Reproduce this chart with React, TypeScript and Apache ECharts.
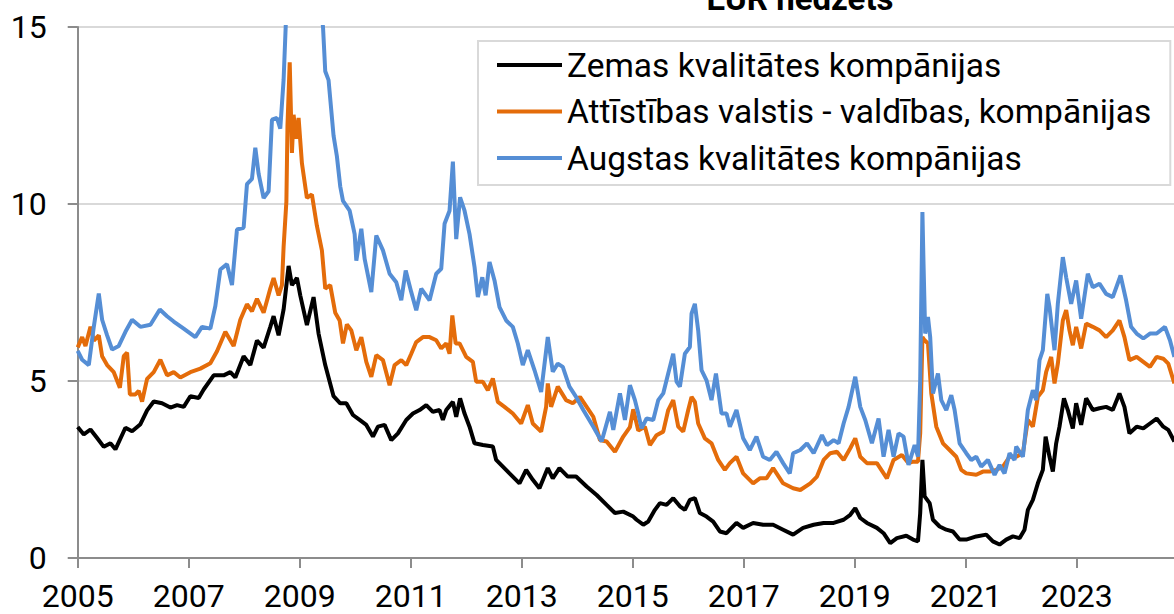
import React, { useEffect, useRef } from "react";
import * as echarts from "echarts";

const TITLE = "EUR hedžēts";
const seriesNames = [
  "Zemas kvalitātes kompānijas",
  "Attīstības valstis - valdības, kompānijas",
  "Augstas kvalitātes kompānijas",
];
const seriesColors = ["#000000", "#e46c0a", "#558ed5"];
const xTickYears = [2005, 2007, 2009, 2011, 2013, 2015, 2017, 2019, 2021, 2023];
const yMin = 0;
const yMax = 15;
const yStep = 5;

// [decimal year, value]
const lowQuality: [number, number][] = [
  [2005.0, 3.7], [2005.11, 3.49], [2005.23, 3.63], [2005.35, 3.39], [2005.47, 3.14], [2005.59, 3.24],
  [2005.68, 3.07], [2005.86, 3.68], [2005.98, 3.58], [2006.13, 3.78], [2006.25, 4.17], [2006.37, 4.42],
  [2006.52, 4.37], [2006.67, 4.25], [2006.79, 4.32], [2006.91, 4.27], [2007.03, 4.57], [2007.18, 4.52],
  [2007.27, 4.76], [2007.45, 5.16], [2007.63, 5.16], [2007.75, 5.25], [2007.84, 5.1], [2007.99, 5.7],
  [2008.11, 5.45], [2008.23, 6.14], [2008.35, 5.94], [2008.47, 6.53], [2008.53, 6.83], [2008.62, 6.29],
  [2008.71, 7.02], [2008.8, 8.25], [2008.86, 7.71], [2008.95, 7.91], [2009.01, 7.42], [2009.13, 6.58],
  [2009.25, 7.37], [2009.34, 6.34], [2009.46, 5.45], [2009.61, 4.57], [2009.73, 4.37], [2009.84, 4.37],
  [2009.96, 4.04], [2010.08, 3.9], [2010.2, 3.76], [2010.32, 3.43], [2010.41, 3.71], [2010.53, 3.76],
  [2010.65, 3.33], [2010.77, 3.52], [2010.92, 3.9], [2011.04, 4.08], [2011.16, 4.18], [2011.28, 4.32],
  [2011.4, 4.13], [2011.52, 4.18], [2011.58, 3.9], [2011.64, 4.18], [2011.76, 4.41], [2011.82, 3.99],
  [2011.89, 4.51], [2011.97, 4.08], [2012.06, 3.71], [2012.15, 3.24], [2012.3, 3.19], [2012.48, 3.15],
  [2012.54, 2.77], [2012.66, 2.58], [2012.78, 2.39], [2012.96, 2.11], [2013.08, 2.49], [2013.2, 2.21],
  [2013.32, 1.97], [2013.47, 2.54], [2013.56, 2.25], [2013.68, 2.54], [2013.83, 2.3], [2013.98, 2.3],
  [2014.17, 2.02], [2014.35, 1.78], [2014.53, 1.5], [2014.68, 1.27], [2014.83, 1.31], [2015.01, 1.17],
  [2015.07, 1.08], [2015.19, 0.94], [2015.28, 1.03], [2015.4, 1.36], [2015.49, 1.55], [2015.61, 1.5],
  [2015.73, 1.69], [2015.85, 1.46], [2015.94, 1.36], [2016.03, 1.64], [2016.12, 1.69], [2016.21, 1.27],
  [2016.33, 1.17], [2016.45, 1.03], [2016.57, 0.75], [2016.69, 0.7], [2016.87, 0.99], [2016.99, 0.85],
  [2017.17, 0.99], [2017.35, 0.94], [2017.53, 0.94], [2017.71, 0.8], [2017.89, 0.66], [2018.07, 0.85],
  [2018.26, 0.94], [2018.44, 0.99], [2018.62, 0.99], [2018.8, 1.08], [2018.92, 1.22], [2019.01, 1.41],
  [2019.1, 1.13], [2019.22, 0.99], [2019.4, 0.85], [2019.52, 0.7], [2019.64, 0.42], [2019.76, 0.56],
  [2019.93, 0.63], [2020.05, 0.52], [2020.14, 0.47], [2020.18, 1.27], [2020.22, 2.77], [2020.26, 1.74],
  [2020.35, 1.55], [2020.41, 1.08], [2020.53, 0.89], [2020.65, 0.8], [2020.77, 0.75], [2020.89, 0.52],
  [2021.01, 0.52], [2021.19, 0.61], [2021.37, 0.66], [2021.49, 0.47], [2021.61, 0.38], [2021.73, 0.52],
  [2021.85, 0.61], [2021.97, 0.56], [2022.06, 0.8], [2022.12, 1.36], [2022.21, 1.64], [2022.3, 2.11],
  [2022.39, 2.49], [2022.44, 3.43], [2022.51, 2.86], [2022.57, 2.44], [2022.63, 3.24], [2022.69, 3.71],
  [2022.77, 4.51], [2022.84, 4.18], [2022.93, 3.66], [2022.99, 4.37], [2023.08, 3.76], [2023.17, 4.51],
  [2023.29, 4.18], [2023.41, 4.23], [2023.53, 4.27], [2023.65, 4.18], [2023.77, 4.65], [2023.86, 4.27],
  [2023.95, 3.52], [2024.08, 3.71], [2024.2, 3.66], [2024.32, 3.8], [2024.44, 3.94], [2024.56, 3.71],
  [2024.65, 3.62], [2024.76, 3.29],
];

const emergingMarkets: [number, number][] = [
  [2005.0, 5.95], [2005.08, 6.24], [2005.14, 5.99], [2005.23, 6.53], [2005.29, 6.14], [2005.38, 6.29],
  [2005.44, 5.7], [2005.53, 5.45], [2005.65, 5.25], [2005.76, 4.81], [2005.83, 5.7], [2005.89, 5.8],
  [2005.94, 4.62], [2006.04, 4.62], [2006.1, 4.72], [2006.16, 4.42], [2006.25, 5.06], [2006.37, 5.25],
  [2006.49, 5.6], [2006.61, 5.16], [2006.73, 5.25], [2006.85, 5.1], [2007.03, 5.25], [2007.21, 5.35],
  [2007.39, 5.5], [2007.51, 5.84], [2007.66, 6.39], [2007.81, 5.99], [2007.93, 6.73], [2008.05, 7.17],
  [2008.14, 6.97], [2008.23, 7.32], [2008.35, 6.93], [2008.47, 7.61], [2008.53, 7.91], [2008.62, 7.42],
  [2008.68, 7.71], [2008.71, 8.79], [2008.76, 10.07], [2008.78, 12.23], [2008.82, 14.0], [2008.86, 11.44],
  [2008.89, 12.52], [2008.94, 11.84], [2008.98, 12.43], [2009.04, 11.15], [2009.13, 10.17], [2009.22, 10.27],
  [2009.31, 9.38], [2009.4, 8.69], [2009.46, 7.61], [2009.55, 7.71], [2009.64, 6.93], [2009.72, 6.71],
  [2009.78, 6.06], [2009.85, 6.6], [2009.93, 6.43], [2010.02, 5.87], [2010.11, 6.24], [2010.2, 5.54],
  [2010.29, 5.12], [2010.38, 5.73], [2010.5, 5.59], [2010.62, 4.88], [2010.71, 5.45], [2010.83, 5.59],
  [2010.92, 5.45], [2011.01, 5.77], [2011.1, 6.1], [2011.22, 6.24], [2011.34, 6.24], [2011.46, 6.15],
  [2011.55, 5.92], [2011.64, 6.06], [2011.7, 5.77], [2011.75, 6.85], [2011.81, 6.06], [2011.88, 6.06],
  [2012.0, 5.68], [2012.12, 5.54], [2012.18, 4.98], [2012.3, 4.98], [2012.39, 4.74], [2012.48, 5.07],
  [2012.57, 4.41], [2012.69, 4.27], [2012.84, 4.08], [2012.99, 3.8], [2013.11, 4.32], [2013.2, 3.8],
  [2013.35, 3.57], [2013.44, 4.27], [2013.47, 4.93], [2013.53, 4.27], [2013.65, 4.84], [2013.8, 4.46],
  [2013.92, 4.37], [2014.05, 4.55], [2014.17, 4.27], [2014.29, 3.99], [2014.41, 3.33], [2014.53, 3.29],
  [2014.68, 3.0], [2014.83, 3.43], [2014.95, 3.7], [2015.01, 4.2], [2015.1, 3.6], [2015.22, 3.71],
  [2015.31, 3.19], [2015.43, 3.47], [2015.55, 3.57], [2015.64, 4.18], [2015.73, 4.46], [2015.82, 3.71],
  [2015.91, 3.57], [2016.0, 4.18], [2016.06, 4.55], [2016.12, 4.41], [2016.18, 3.8], [2016.3, 3.38],
  [2016.42, 3.24], [2016.54, 2.77], [2016.66, 2.49], [2016.75, 2.68], [2016.87, 2.86], [2016.99, 2.39],
  [2017.17, 2.11], [2017.29, 2.25], [2017.41, 2.25], [2017.53, 2.54], [2017.71, 2.11], [2017.89, 1.97],
  [2018.02, 1.92], [2018.2, 2.11], [2018.32, 2.3], [2018.44, 2.77], [2018.56, 2.96], [2018.68, 3.0],
  [2018.8, 2.77], [2018.92, 3.1], [2019.01, 3.38], [2019.1, 2.86], [2019.22, 2.68], [2019.4, 2.68],
  [2019.58, 2.25], [2019.7, 2.77], [2019.85, 2.91], [2019.97, 2.68], [2020.05, 2.72], [2020.14, 2.72],
  [2020.18, 3.52], [2020.22, 6.24], [2020.26, 6.15], [2020.32, 6.06], [2020.38, 4.65], [2020.47, 3.71],
  [2020.59, 3.24], [2020.71, 3.05], [2020.83, 2.86], [2020.92, 2.49], [2021.01, 2.39], [2021.19, 2.35],
  [2021.31, 2.44], [2021.43, 2.44], [2021.55, 2.49], [2021.67, 2.58], [2021.79, 2.86], [2021.91, 2.86],
  [2022.03, 2.96], [2022.12, 3.9], [2022.21, 3.71], [2022.3, 4.55], [2022.39, 4.74], [2022.45, 5.26],
  [2022.54, 5.68], [2022.6, 4.93], [2022.66, 5.49], [2022.75, 6.71], [2022.81, 7.0], [2022.87, 6.43],
  [2022.93, 6.01], [2022.99, 6.53], [2023.08, 5.92], [2023.17, 6.62], [2023.29, 6.53], [2023.41, 6.43],
  [2023.53, 6.24], [2023.65, 6.43], [2023.77, 6.71], [2023.86, 6.24], [2023.95, 5.59], [2024.08, 5.68],
  [2024.2, 5.54], [2024.32, 5.4], [2024.44, 5.68], [2024.56, 5.63], [2024.65, 5.49], [2024.76, 4.93],
];

const highQuality: [number, number][] = [
  [2005.0, 5.85], [2005.08, 5.6], [2005.2, 5.45], [2005.29, 6.53], [2005.38, 7.47], [2005.44, 6.73],
  [2005.53, 6.29], [2005.62, 5.89], [2005.74, 5.99], [2005.86, 6.39], [2005.98, 6.73], [2006.13, 6.53],
  [2006.31, 6.59], [2006.48, 7.02], [2006.61, 6.83], [2006.73, 6.68], [2006.91, 6.48], [2007.12, 6.24],
  [2007.24, 6.53], [2007.39, 6.48], [2007.48, 7.12], [2007.57, 8.15], [2007.69, 8.3], [2007.78, 7.71],
  [2007.87, 9.28], [2007.99, 9.33], [2008.05, 10.56], [2008.14, 10.71], [2008.2, 11.59], [2008.26, 10.85],
  [2008.35, 10.17], [2008.44, 10.36], [2008.5, 12.38], [2008.59, 12.43], [2008.65, 12.13], [2008.71, 13.51],
  [2008.76, 15.5], [2008.8, 17.5], [2008.9, 19.0], [2009.05, 18.5], [2009.2, 17.5], [2009.35, 16.0],
  [2009.42, 15.0], [2009.46, 13.75], [2009.52, 13.5], [2009.61, 11.93], [2009.67, 11.35], [2009.73, 10.5],
  [2009.78, 10.09], [2009.9, 9.81], [2009.99, 9.15], [2010.02, 8.4], [2010.11, 9.3], [2010.17, 8.45],
  [2010.29, 7.51], [2010.38, 9.11], [2010.5, 8.69], [2010.62, 8.03], [2010.74, 7.79], [2010.83, 7.28],
  [2010.91, 8.12], [2011.01, 7.51], [2011.1, 7.0], [2011.19, 7.61], [2011.34, 7.28], [2011.46, 8.03],
  [2011.55, 8.17], [2011.61, 9.44], [2011.7, 9.81], [2011.76, 11.2], [2011.82, 9.01], [2011.89, 10.19],
  [2011.97, 9.81], [2012.06, 9.15], [2012.15, 8.22], [2012.21, 7.37], [2012.29, 7.93], [2012.35, 7.42],
  [2012.42, 8.36], [2012.51, 7.84], [2012.6, 7.09], [2012.72, 6.71], [2012.84, 6.53], [2012.93, 6.06],
  [2013.02, 5.45], [2013.11, 5.87], [2013.23, 5.31], [2013.35, 4.69], [2013.47, 6.24], [2013.56, 5.26],
  [2013.65, 5.49], [2013.74, 5.4], [2013.86, 4.84], [2013.98, 4.55], [2014.11, 4.18], [2014.29, 3.71],
  [2014.44, 3.29], [2014.59, 4.13], [2014.65, 3.62], [2014.77, 4.65], [2014.86, 3.9], [2014.95, 4.88],
  [2015.04, 4.46], [2015.1, 4.08], [2015.16, 3.66], [2015.25, 3.94], [2015.37, 3.9], [2015.46, 4.46],
  [2015.55, 4.65], [2015.64, 5.21], [2015.73, 5.77], [2015.79, 4.98], [2015.85, 4.84], [2015.94, 5.77],
  [2016.03, 5.96], [2016.06, 6.9], [2016.12, 7.18], [2016.18, 6.43], [2016.24, 5.31], [2016.33, 5.02],
  [2016.42, 4.46], [2016.5, 5.21], [2016.6, 4.08], [2016.69, 4.08], [2016.75, 3.71], [2016.87, 4.18],
  [2016.99, 3.38], [2017.11, 3.05], [2017.23, 3.43], [2017.35, 2.86], [2017.47, 2.77], [2017.59, 3.0],
  [2017.71, 2.68], [2017.83, 2.39], [2017.89, 2.96], [2018.02, 3.05], [2018.14, 3.24], [2018.26, 2.96],
  [2018.41, 3.47], [2018.5, 3.19], [2018.62, 3.33], [2018.71, 3.24], [2018.8, 3.8], [2018.89, 4.27],
  [2019.01, 5.12], [2019.1, 4.27], [2019.19, 3.9], [2019.31, 3.24], [2019.43, 3.94], [2019.52, 2.86],
  [2019.61, 3.62], [2019.7, 2.86], [2019.79, 3.52], [2019.88, 3.43], [2019.97, 2.63], [2020.08, 3.19],
  [2020.14, 2.86], [2020.18, 5.02], [2020.22, 9.77], [2020.24, 8.31], [2020.27, 6.34], [2020.32, 6.81],
  [2020.36, 6.24], [2020.41, 4.65], [2020.5, 5.21], [2020.56, 4.46], [2020.65, 4.18], [2020.74, 4.6],
  [2020.8, 4.18], [2020.89, 3.24], [2021.01, 2.96], [2021.1, 2.77], [2021.19, 2.86], [2021.28, 2.58],
  [2021.4, 2.77], [2021.52, 2.35], [2021.61, 2.63], [2021.7, 2.39], [2021.79, 2.96], [2021.88, 2.77],
  [2021.91, 3.15], [2022.03, 2.86], [2022.12, 4.18], [2022.21, 4.74], [2022.27, 4.46], [2022.33, 5.59],
  [2022.39, 5.87], [2022.47, 7.46], [2022.51, 7.09], [2022.6, 5.87], [2022.66, 7.18], [2022.75, 8.5],
  [2022.81, 7.93], [2022.9, 7.18], [2022.99, 7.84], [2023.08, 6.76], [2023.2, 8.03], [2023.29, 7.65],
  [2023.41, 7.75], [2023.53, 7.46], [2023.65, 7.37], [2023.79, 7.98], [2023.89, 7.28], [2023.98, 6.53],
  [2024.08, 6.34], [2024.2, 6.2], [2024.32, 6.34], [2024.44, 6.34], [2024.59, 6.53], [2024.68, 6.15],
  [2024.76, 5.68],
];

const seriesData = [lowQuality, emergingMarkets, highQuality];

const FONT = "Roboto, 'Noto Sans', sans-serif";

export default function App() {
  const ref = useRef<HTMLDivElement>(null);
  useEffect(() => {
    if (!ref.current) return;
    const chart = echarts.init(ref.current, null, { renderer: "svg" });
    const axisGray = "#8c8c8c";
    chart.setOption({
      animation: false,
      textStyle: { fontFamily: FONT },
      grid: { left: 77.7, right: 0, top: 27, bottom: 56, containLabel: false },
      xAxis: {
        type: "value",
        min: 2005,
        max: 2024.753,
        axisLine: { show: true, onZero: false, lineStyle: { color: axisGray, width: 2 } },
        axisTick: { show: true, customValues: xTickYears, length: 10, lineStyle: { color: axisGray, width: 2 } },
        axisLabel: {
          customValues: xTickYears,
          formatter: (v: number) => String(Math.round(v)),
          fontSize: 32,
          color: "#000",
          margin: 22,
          fontFamily: FONT,
        },
        splitLine: { show: false },
      },
      yAxis: {
        type: "value",
        min: yMin,
        max: yMax,
        interval: yStep,
        axisLine: { show: true, lineStyle: { color: axisGray, width: 2 } },
        axisTick: { show: true, length: 10, lineStyle: { color: axisGray, width: 2 } },
        axisLabel: { fontSize: 32, color: "#000", margin: 31, fontFamily: FONT },
        splitLine: { show: true, lineStyle: { color: "#d9d9d9", width: 2 } },
      },
      legend: {
        orient: "vertical",
        left: 478,
        top: 41,
        padding: [4, 19, 7, 19],
        itemGap: 6.5,
        itemWidth: 65,
        itemHeight: 4,
        icon: "rect",
        borderColor: "#d9d9d9",
        borderWidth: 2,
        backgroundColor: "#ffffff",
        textStyle: { fontSize: 33.5, color: "#000", fontFamily: FONT, lineHeight: 40 },
        data: seriesNames,
      },
      graphic: [
        {
          type: "text",
          x: 800,
          y: -2,
          style: {
            text: TITLE,
            font: "bold 33px Roboto",
            fill: "#000",
            align: "center",
            verticalAlign: "middle",
          },
        },
      ],
      series: seriesNames.map((name, i) => ({
        name,
        type: "line",
        data: seriesData[i],
        symbol: "none",
        showSymbol: false,
        clip: true,
        z: 2 + i,
        lineStyle: { color: seriesColors[i], width: 4 },
        itemStyle: { color: seriesColors[i] },
      })),
    });
    return () => chart.dispose();
  }, []);
  return (
    <div
      ref={ref}
      style={{ position: "absolute", left: 0, top: 0, width: 1174, height: 614 }}
    />
  );
}
